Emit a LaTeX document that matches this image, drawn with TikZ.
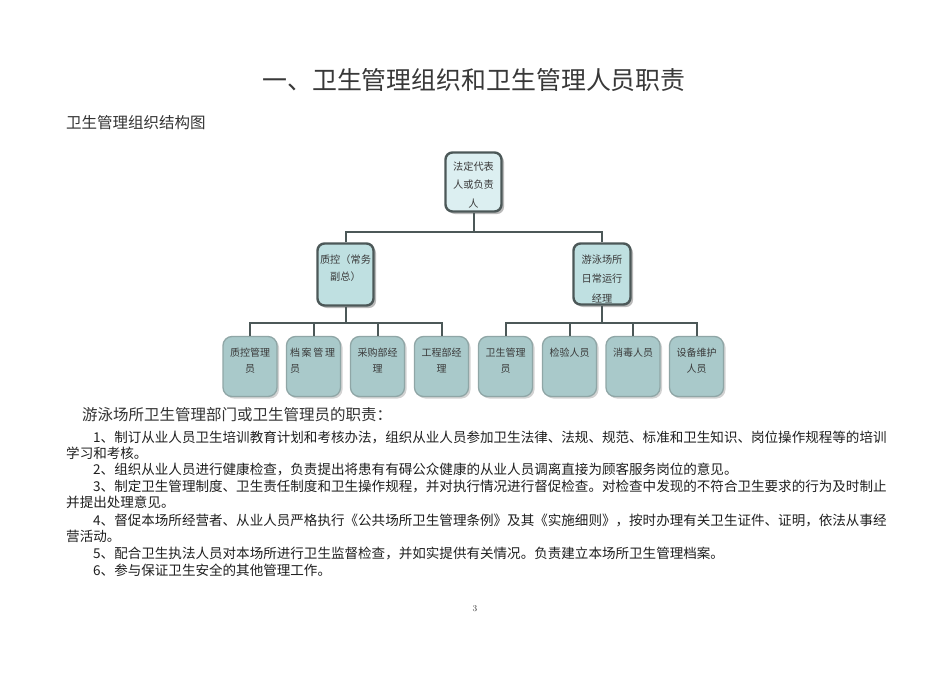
\documentclass[tikz,border=0pt]{standalone}
\usepackage{fontspec}
\newfontfamily\cjk{Noto Sans CJK SC}
\usetikzlibrary{shadows}
\definecolor{topfill}{HTML}{DCEFF1}
\definecolor{midfill}{HTML}{BFE0E1}
\definecolor{lowfill}{HTML}{A9C9CA}
\definecolor{darkedge}{HTML}{4C5858}
\definecolor{lowedge}{HTML}{8FA6A6}
\definecolor{boxtext}{HTML}{3A3A3A}
\tikzset{
  upperbox/.style={draw=darkedge, line width=2.4pt, rounded corners=7pt,
    minimum width=55pt, inner sep=0pt,
    drop shadow={shadow xshift=2.5pt, shadow yshift=-2.5pt, fill=black!45, opacity=.6}},
  lowbox/.style={draw=lowedge, line width=1.3pt, fill=lowfill, rounded corners=9pt,
    minimum width=54pt, minimum height=60pt, inner sep=0pt,
    drop shadow={shadow xshift=2pt, shadow yshift=-2pt, fill=black!35, opacity=.5}},
  boxlabel/.style={font=\cjk\fontsize{10.2}{18.5}\selectfont, text=boxtext, align=center, anchor=north, inner sep=0pt},
  lowlabel/.style={font=\cjk\fontsize{10}{16}\selectfont, text=boxtext, align=center, anchor=north, inner sep=0pt},
  conn/.style={draw=darkedge, line width=2pt},
  bodyline/.style={font=\cjk\fontsize{13.55}{16}\selectfont, text=black!88, anchor=west, inner sep=0pt},
}
\begin{document}
\begin{tikzpicture}[x=1pt,y=-1pt]
\useasboundingbox[fill=white] (0,0) rectangle (950,672);

% title
\node[font=\cjk\fontsize{24.9}{28}\selectfont, text=black!78, inner sep=0pt] (title) at (474,80) {一、卫生管理组织和卫生管理人员职责};
\node[font=\cjk\fontsize{15.5}{18}\selectfont, text=black!80, anchor=west, inner sep=0pt] (sub) at (66,123) {卫生管理组织结构图};

% top box
\node[upperbox, fill=topfill, minimum width=56pt, minimum height=59pt] (t) at (473.5,182) {};
\node[boxlabel] (tl) at ([yshift=-10pt]t.north) {法定代表\\人或负责\\人};

% middle boxes
\node[upperbox, fill=midfill, minimum width=56pt, minimum height=62pt] (m1) at (345.5,274.5) {};
\node[boxlabel, font=\cjk\fontsize{10.2}{17}\selectfont] (m1l) at ([yshift=-12pt]m1.north) {质控（常务\\副总）};
\node[upperbox, fill=midfill, minimum width=57pt, minimum height=61pt] (m2) at (602,274) {};
\node[boxlabel, font=\cjk\fontsize{10.2}{19.5}\selectfont] (m2l) at ([yshift=-12pt]m2.north) {游泳场所\\日常运行\\经理};

% bottom boxes (left group)
\node[lowbox] (a1) at (250,366.5) {};
\node[lowbox] (a2) at (313.5,366.5) {};
\node[lowbox] (a3) at (377.5,366.5) {};
\node[lowbox] (a4) at (441.5,366.5) {};
% bottom boxes (right group)
\node[lowbox] (b1) at (505.5,366.5) {};
\node[lowbox] (b2) at (569.5,366.5) {};
\node[lowbox] (b3) at (633,366.5) {};
\node[lowbox] (b4) at (696.5,366.5) {};

\node[lowlabel] (a1l) at ([yshift=-12pt]a1.north) {质控管理\\员};
\node[lowlabel, align=left, anchor=north west] (a2l) at ([xshift=4pt,yshift=-12pt]a2.north west) {档\,案\,管\,理\\员};
\node[lowlabel] (a3l) at ([yshift=-12pt]a3.north) {采购部经\\理};
\node[lowlabel] (a4l) at ([yshift=-12pt]a4.north) {工程部经\\理};
\node[lowlabel] (b1l) at ([yshift=-12pt]b1.north) {卫生管理\\员};
\node[lowlabel] (b2l) at ([yshift=-12pt]b2.north) {检验人员};
\node[lowlabel] (b3l) at ([yshift=-12pt]b3.north) {消毒人员};
\node[lowlabel] (b4l) at ([yshift=-12pt]b4.north) {设备维护\\人员};

% connectors
\coordinate (j0) at (473.5,232);
\coordinate (j1) at (345.5,323);
\coordinate (j2) at (602,323);
\draw[conn] (t.south) -- (j0);
\draw[conn] (m1.north) |- (j0) -| (m2.north);
\draw[conn] (m1.south) -- (j1);
\draw[conn] (a1.north) |- (j1) -| (a4.north);
\draw[conn] (a2.north) -- (a2.north |- j1);
\draw[conn] (a3.north) -- (a3.north |- j1);
\draw[conn] (m2.south) -- (j2);
\draw[conn] (b1.north) |- (j2) -| (b4.north);
\draw[conn] (b2.north) -- (b2.north |- j2);
\draw[conn] (b3.north) -- (b3.north |- j2);

% duties
\node[font=\cjk\fontsize{15.5}{18}\selectfont, text=black!80, anchor=west, inner sep=0pt] (head) at (82,415) {游泳场所卫生管理部门或卫生管理员的职责：};
\node[bodyline] (l1) at (93,437) {1、制订从业人员卫生培训教育计划和考核办法，组织从业人员参加卫生法律、法规、规范、标准和卫生知识、岗位操作规程等的培训};
\node[bodyline] (l1b) at (66,453.5) {学习和考核。};
\node[bodyline] (l2) at (93,469.5) {2、组织从业人员进行健康检查，负责提出将患有有碍公众健康的从业人员调离直接为顾客服务岗位的意见。};
\node[bodyline] (l3) at (93,486) {3、制定卫生管理制度、卫生责任制度和卫生操作规程，并对执行情况进行督促检查。对检查中发现的不符合卫生要求的行为及时制止};
\node[bodyline] (l3b) at (66,502.5) {并提出处理意见。};
\node[bodyline] (l4) at (93,520) {4、督促本场所经营者、从业人员严格执行《公共场所卫生管理条例》及其《实施细则》，按时办理有关卫生证件、证明，依法从事经};
\node[bodyline] (l4b) at (66,536.5) {营活动。};
\node[bodyline] (l5) at (93,553) {5、配合卫生执法人员对本场所进行卫生监督检查，并如实提供有关情况。负责建立本场所卫生管理档案。};
\node[bodyline] (l6) at (93,570) {6、参与保证卫生安全的其他管理工作。};

% page number
\node[font=\fontsize{9}{10}\selectfont, text=black!80, inner sep=0pt] (pg) at (475,609) {3};
\end{tikzpicture}
\end{document}
